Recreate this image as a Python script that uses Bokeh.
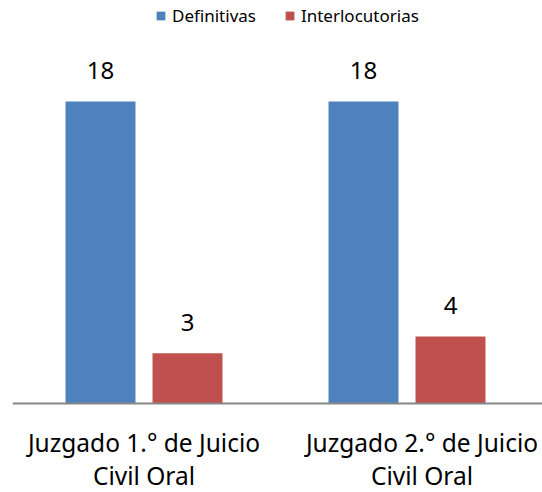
from bokeh.plotting import figure
from bokeh.models import Range1d, ColumnDataSource, Legend, LegendItem, Span
from bokeh.core.properties import value
from bokeh.embed import file_html
from bokeh.resources import INLINE

categories = ["Juzgado 1.° de Juicio\nCivil Oral", "Juzgado 2.° de Juicio\nCivil Oral"]
series_names = ["Definitivas", "Interlocutorias"]
definitivas = [18, 18]
interlocutorias = [3, 4]

BLUE = "#4F81BD"
RED = "#C0504D"
AXIS = "#868686"
FONT = "Noto Sans"

centers = [i + 0.5 for i in range(len(categories))]
label_shift = [0, 15]   # px nudge of category labels
off = 0.1654
bw = 0.266

PX_X = 263.0
PX_Y = 16.78
W, H = 542, 492
LEFT = 12
AXIS_Y = 403
p = figure(width=W, height=H, output_backend="svg", toolbar_location=None,
           x_range=Range1d(0, (W - LEFT) / PX_X),
           y_range=Range1d(-(H - AXIS_Y) / PX_Y, AXIS_Y / PX_Y),
           min_border_left=LEFT, min_border_right=0, min_border_top=0, min_border_bottom=0)
p.outline_line_color = None
p.xgrid.visible = False
p.ygrid.visible = False
p.xaxis.visible = False
p.yaxis.visible = False
p.background_fill_color = "white"
p.border_fill_color = "white"

xd = [c - off for c in centers]
xi = [c + off for c in centers]
src_d = ColumnDataSource(dict(x=xd, top=definitivas, lab=[str(v) for v in definitivas]))
src_i = ColumnDataSource(dict(x=xi, top=interlocutorias, lab=[str(v) for v in interlocutorias]))

rd = p.vbar(x="x", top="top", bottom=0, width=bw, source=src_d, fill_color=BLUE, line_color=None)
ri = p.vbar(x="x", top="top", bottom=0, width=bw, source=src_i, fill_color=RED, line_color=None)

for s in (src_d, src_i):
    p.text(x="x", y="top", text="lab", source=s, text_align="center", text_baseline="alphabetic",
           y_offset=-30.5, text_font=value(FONT), text_font_size="24px", text_color="black")

p.add_layout(Span(location=0, dimension="width", line_color=AXIS, line_width=2))

src_c = ColumnDataSource(dict(x=centers, y=[0] * len(centers), lab=categories, dx=label_shift))
p.text(x="x", y="y", text="lab", source=src_c, text_align="center", text_baseline="top",
       x_offset="dx", y_offset=22, text_line_height=1.0, text_font=value(FONT),
       text_font_size="24.5px", text_color="black")

legend = Legend(items=[LegendItem(label=series_names[0], renderers=[rd]),
                       LegendItem(label=series_names[1], renderers=[ri])],
                orientation="horizontal", location=(143, H - 7 - 20), padding=0, margin=0,
                spacing=28, label_standoff=6, glyph_width=11, glyph_height=11,
                border_line_color=None, background_fill_alpha=0,
                label_text_font=FONT, label_text_font_size="17px", label_text_color="black")
p.add_layout(legend)

open("out.html", "w").write(file_html(p, INLINE))
